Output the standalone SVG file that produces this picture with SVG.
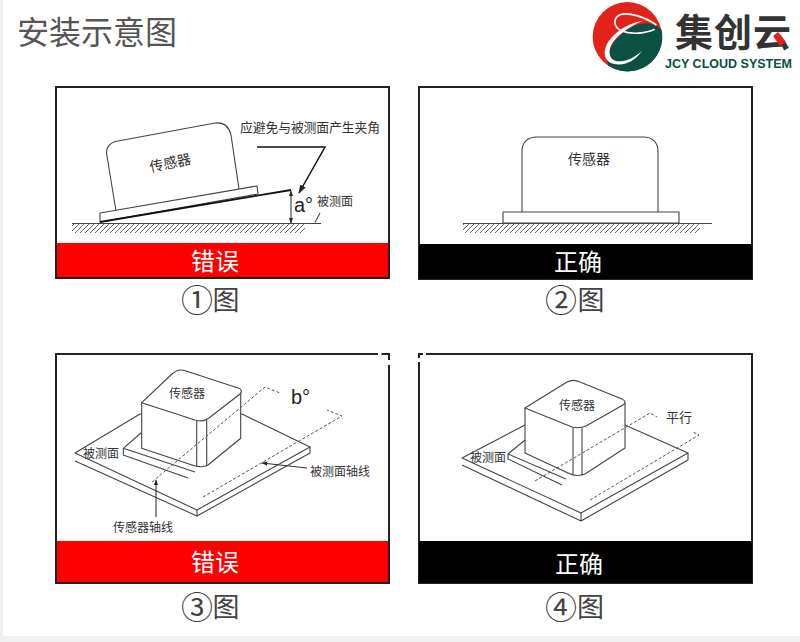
<svg xmlns="http://www.w3.org/2000/svg" width="800" height="642" viewBox="0 0 800 642">
<style>
.cjk{font-family:"Noto Sans CJK SC","Liberation Sans",sans-serif}
.lat{font-family:"Liberation Sans",Arial,sans-serif}
.lb{fill:#333;font-size:12px;text-anchor:middle;dominant-baseline:central}
.ban{fill:#fff;font-size:24px;text-anchor:middle;dominant-baseline:central}
.cap{fill:#444;font-size:27px;dominant-baseline:central}
.num{font-size:32px}
.frame{fill:#fff;stroke:#222;stroke-width:2}
.ln{fill:none;stroke:#444;stroke-width:1.1;stroke-linejoin:round}
.sh{fill:#fff;stroke:#444;stroke-width:1.1;stroke-linejoin:round}
.dash{fill:none;stroke:#555;stroke-width:1;stroke-dasharray:3 2}
.lead{fill:none;stroke:#333;stroke-width:1.1}
.ang{fill:#222;font-size:20px}
</style>
<defs>
<pattern id="hatch" width="5" height="12" patternUnits="userSpaceOnUse" patternTransform="translate(0 223)">
<path d="M-7 12 L5 0 M-2 12 L10 0" stroke="#666" stroke-width="1" fill="none"/>
</pattern>
<marker id="arr" viewBox="0 0 10 10" refX="9" refY="5" markerWidth="9" markerHeight="9" markerUnits="userSpaceOnUse" orient="auto-start-reverse"><path d="M0 1.5 L10 5 L0 8.5Z" fill="#222"/></marker>
<marker id="arrs" viewBox="0 0 10 10" refX="9" refY="5" markerWidth="6" markerHeight="6" markerUnits="userSpaceOnUse" orient="auto-start-reverse"><path d="M0 1.5 L10 5 L0 8.5Z" fill="#222"/></marker>
</defs>
<rect width="800" height="642" fill="#f0f0f0"/>
<rect x="3" y="0" width="797" height="636" fill="#fff"/>

<g id="title"><text class="cjk" x="17" y="44" font-size="32" fill="#555">安装示意图</text></g>

<g id="logo">
<g transform="translate(588 0) scale(.3333)">
<circle cx="118" cy="110" r="104" fill="#e2231a"/>
<path d="M60 196C50 150 85 110 125 85C155 68 195 62 221 90A104 104 0 0 1 60 196Z" fill="#0b4f45"/>
<path d="M165 62C110 70 50 115 50 160C50 190 85 200 115 190C135 183 150 170 162 152C145 168 125 180 105 183C80 187 62 178 65 150C70 120 110 85 165 62Z" fill="#fff"/>
<path d="M205 75C170 50 120 35 95 45C75 55 75 80 100 92C130 105 175 100 200 88" fill="none" stroke="#fff" stroke-width="5"/>
</g>
<text class="cjk" x="733" y="46" font-size="38" font-weight="700" fill="#333" text-anchor="middle" textLength="116">集创云</text>
<path d="M773 36L778 32L786 42L780 46Z" fill="#e2231a"/>
<text class="lat" x="665" y="68" font-size="13" font-weight="700" fill="#0b4f45" textLength="127" lengthAdjust="spacingAndGlyphs">JCY CLOUD SYSTEM</text>
</g>

<g id="panel1">
<rect class="frame" x="56" y="87" width="333" height="191"/>
<rect x="57" y="243" width="331" height="34" fill="#f00"/>
<text class="cjk ban" x="215" y="259">错误</text>
<rect x="72" y="224" width="233" height="11" fill="url(#hatch)"/>
<path class="ln" d="M72 223.500H321M315 222.500L320 213"/>
<path class="sh" d="M116 211L107 156C105 148 110 142 118 141L215 123C224 122 229 126 231 135L239 189"/>
<path class="sh" d="M100 213L257 186L258 194L100 222Z"/>
<path d="M100 222L291 190" stroke="#111" stroke-width="1.800" fill="none"/>
<text class="cjk lb" x="170" y="162" style="font-size:14px" transform="rotate(-12 170 162)">传感器</text>
<text class="cjk lb" x="310" y="126" style="font-size:12.800px" textLength="140">应避免与被测面产生夹角</text>
<text class="lat ang" x="294" y="212">a°</text>
<text class="cjk lb" x="335" y="200">被测面</text>
</g>

<g id="panel2">
<rect class="frame" x="419" y="87" width="333" height="192"/>
<rect x="419" y="244" width="333" height="35" fill="#000"/>
<text class="cjk ban" x="578" y="260">正确</text>
<rect x="463" y="224" width="237" height="11" fill="url(#hatch)"/>
<path class="ln" d="M463 223.500H712"/>
<path class="sh" d="M522 212V151C522 142 528 137 537 137H643C652 137 658 142 658 151V212"/>
<rect class="sh" x="503" y="212" width="176" height="11"/>
<text class="cjk lb" x="589" y="158" style="font-size:14px">传感器</text>
</g>

<g id="panel3">
<rect class="frame" x="56" y="354" width="333" height="229"/>
<rect x="57" y="541" width="331" height="41" fill="#f00"/>
<rect x="378" y="352" width="3.500" height="4" fill="#fff"/>
<rect x="387" y="360" width="4" height="5" fill="#fff"/>
<text class="cjk ban" x="215" y="560">错误</text>
<path class="sh" d="M75 453L140 414H242L310 447L197 510Z"/>
<path class="ln" d="M75 461L197 516L310 453V447M197 510V516"/>
<path class="ln" d="M142 432L123.300 448.300V455L188 478M123.300 448.300L195 472"/>
<path class="sh" d="M141.700 402.700V448.300L192 465C198 467 203 468 208 465L240.700 438.300V392Z"/>
<path class="sh" d="M141.700 402.700L172 374C176 370 181 369 186 371L238 388C242 389 242 392 240 394L209 418C203 422 199 421 195 420Z"/>
<path class="ln" d="M196.700 420.500V466.700M206.700 419.500V466"/>
<path class="dash" d="M152 482L265 387L280 393"/>
<path class="dash" d="M203 497L342 416L327 410"/>
<path class="lead" d="M156 517V480" marker-end="url(#arrs)"/>
<path class="lead" d="M307 468L262 463" marker-end="url(#arrs)"/>
<text class="cjk lb" x="187" y="392">传感器</text>
<text class="cjk lb" x="101" y="452">被测面</text>
<text class="cjk lb" x="143" y="526">传感器轴线</text>
<text class="cjk lb" x="340" y="470">被测面轴线</text>
<text class="lat ang" x="291" y="404">b°</text>
</g>

<g id="panel4">
<rect class="frame" x="419" y="354" width="333" height="229"/>
<rect x="419" y="541" width="333" height="42" fill="#000"/>
<rect x="418" y="358" width="3" height="4" fill="#fff"/>
<rect x="423" y="352" width="3" height="4" fill="#fff"/>
<text class="cjk ban" x="579" y="562">正确</text>
<path class="sh" d="M462 458L525 425H625L688 453L581 513Z"/>
<path class="ln" d="M462 465L581 521L688 460V453M581 513V521"/>
<path class="ln" d="M525 440L508 454V459L562 485M508 454L566 479"/>
<path class="sh" d="M525 408V453L568 473C574 476 580 476 585 474L625 448V403Z"/>
<path class="sh" d="M525 408L567 382C571 380 576 380 580 382L622 399C626 401 626 403 623 405L586 426C581 428 576 428 572 427Z"/>
<path class="ln" d="M573 427.500V474.500M582 427.500V475.500"/>
<path class="dash" d="M535 481L650 413L657 417"/>
<path class="dash" d="M590 500L699 435L693 432"/>
<text class="cjk lb" x="577" y="404">传感器</text>
<text class="cjk lb" x="488" y="456">被测面</text>
<text class="cjk lb" x="679" y="416" style="font-size:13px">平行</text>
</g>

<g id="captions">
<text class="cjk cap"><tspan class="num" x="181" y="298">①</tspan><tspan x="212.500" y="298">图</tspan></text>
<text class="cjk cap"><tspan class="num" x="545" y="298">②</tspan><tspan x="577.500" y="298">图</tspan></text>
<text class="cjk cap"><tspan class="num" x="181" y="605">③</tspan><tspan x="212.500" y="605">图</tspan></text>
<text class="cjk cap"><tspan class="num" x="545" y="605">④</tspan><tspan x="577" y="605">图</tspan></text>
</g>

<g id="connectors">
<path d="M257 147H325L299 193" fill="none" stroke="#111" stroke-width="1.500" marker-end="url(#arr)"/>
<path d="M291 191V223" fill="none" stroke="#222" stroke-width="1" marker-start="url(#arrs)" marker-end="url(#arrs)"/>
</g>
</svg>
